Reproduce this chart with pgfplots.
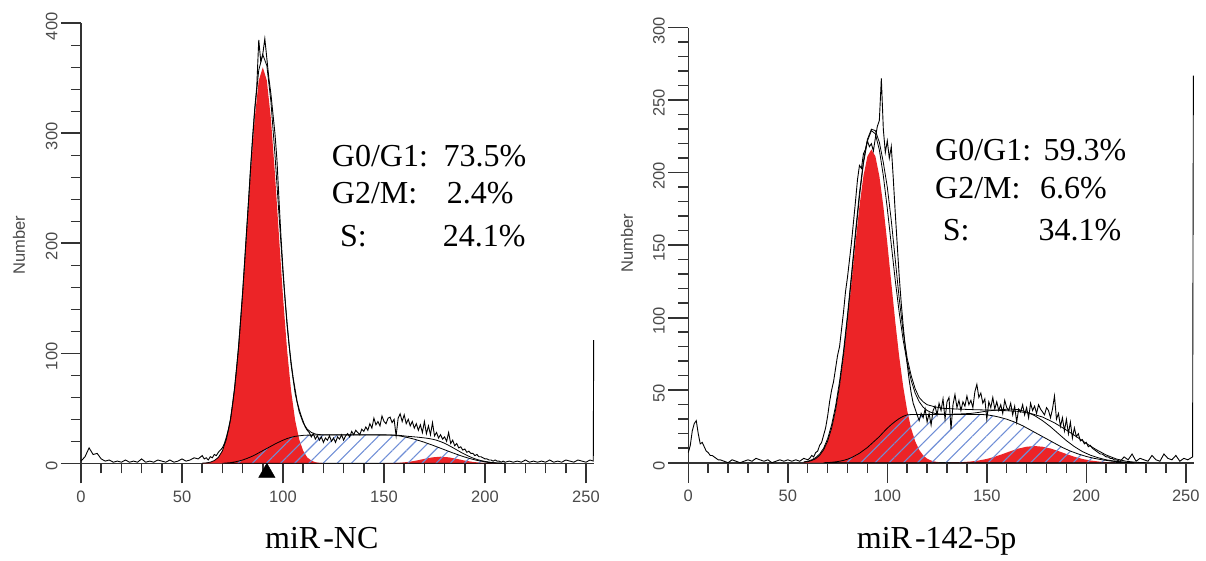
\documentclass[border=0pt]{standalone}
\usepackage{fontspec}
\setmainfont{Liberation Serif}
\newfontfamily\arial{Liberation Sans}
\usepackage{pgfplots}
\pgfplotsset{compat=1.18}
\usetikzlibrary{patterns.meta}

\definecolor{fcsred}{HTML}{EC2427}
\definecolor{hatchblue}{HTML}{6F8ED6}
\definecolor{axgray}{HTML}{333333}
\definecolor{lblgray}{HTML}{4A4A4A}

\pgfplotsset{
  fcs/.style={
    anchor=south west,
    axis x line*=bottom, axis y line*=left,
    xmin=0, xmax=254, ymin=0,
    xtick={0,50,...,250}, minor x tick num=4,
    minor y tick num=4,
    tick align=outside,
    major tick length=20pt, minor tick length=10pt,
    major tick style={axgray, line width=1.6pt},
    minor tick style={axgray, line width=1.5pt},
    axis line style={axgray, line width=1.6pt},
    ticklabel style={font=\arial\fontsize{16.5}{16.5}\selectfont, text=lblgray},
    xticklabel style={yshift=-4pt},
    yticklabel style={rotate=90, anchor=south, xshift=-3pt},
    /pgf/number format/assume math mode=true,
    clip=false,
  },
  g1/.style={fill=fcsred, draw=none},
  sph/.style={pattern={Lines[angle=45,distance=10pt,line width=1.1pt]}, pattern color=hatchblue, draw=black, line width=0.8pt},
  raw/.style={black, line width=0.9pt},
  fit/.style={black, line width=0.8pt},
}

\newcommand{\bigtxt}{\fontsize{32}{32}\selectfont}

\begin{document}
\begin{tikzpicture}

% ---------------- miR-NC ----------------
\begin{axis}[fcs, at={(81pt,96.7pt)}, x=2.02pt, y=1.1pt, ymax=400,
  ytick={0,100,...,400}]
% G0/G1 peak
\addplot[g1] coordinates {(60,0.2)(62,0.4)(64,1)(66,2.5)(68,5.4)(70,11.3)(72,21.8)(74,39.2)(76,66)(78,103.4)(80,151.4)(82,206.9)(84,263.6)(86,313.5)(88,348)(90,360)(92,348)(94,313.5)(96,263.6)(98,206.9)(100,151.4)(102,103.4)(104,66)(106,39.2)(108,21.8)(110,11.3)(112,5.4)(114,2.5)(116,1)(118,0.4)(120,0.2)} \closedcycle;
% G2/M peak
\addplot[g1] coordinates {(150,0.05)(154,0.17)(158,0.51)(162,1.24)(166,2.47)(170,4.04)(174,5.43)(178,6)(182,5.43)(186,4.04)(190,2.47)(194,1.24)(198,0.51)(202,0.17)(206,0.05)} \closedcycle;
% S phase
\addplot[sph] coordinates {(70,0)(72,0.3)(74,0.6)(76,1.2)(78,2)(80,3)(82,4.3)(84,5.8)(86,7.5)(88,9.5)(90,11.5)(92,13.5)(94,15.5)(96,17.5)(98,19.3)(100,21)(102,22.5)(104,23.6)(106,24.5)(108,25)(110,25.4)(112,25.6)(120,25.7)(130,25.8)(140,25.8)(150,25.8)(152,25.7)(154,25.6)(156,25.3)(158,24.8)(160,24.1)(162,23.3)(164,22.4)(166,21.4)(168,20.3)(170,19.1)(172,17.8)(174,16.5)(176,15.1)(178,13.7)(180,12.3)(182,10.9)(184,9.5)(186,8.2)(188,6.9)(190,5.7)(192,4.6)(194,3.6)(196,2.7)(198,2)(200,1.4)(202,0.9)(204,0.5)(206,0.25)(208,0.1)(210,0)} \closedcycle;
% model sum
\addplot[fit] coordinates {(60,0.1)(62,0.4)(64,1)(66,2.5)(68,5.4)(70,11.3)(72,22.1)(74,39.8)(76,67.2)(78,105.4)(80,154.4)(82,211.2)(84,269.4)(86,321)(88,357.5)(90,371.5)(92,361.5)(94,329)(96,281.1)(98,226.2)(100,172.4)(102,125.9)(104,89.6)(106,63.7)(108,46.8)(110,36.7)(112,31)(114,28.1)(116,26.6)(118,26.1)(120,25.9)(130,25.9)(140,25.9)(150,25.85)(152,25.8)(154,25.8)(156,25.6)(158,25.3)(160,24.9)(162,24.5)(164,24.2)(166,23.9)(168,23.5)(170,23.1)(172,22.6)(174,21.9)(176,21)(178,19.7)(180,18.2)(182,16.3)(184,14.3)(186,12.2)(188,10.1)(190,8.2)(192,6.4)(194,4.8)(196,3.5)(198,2.5)(200,1.7)(202,1.1)(204,0.6)(206,0.3)(208,0.1)(210,0)};
% raw histogram
\addplot[raw] coordinates {(0,2)(2,6)(4,14)(6,8)(8,9)(10,4)(12,2)(14,3)(16,1)(18,2)(20,1)(22,3)(24,1)(26,2)(28,1)(30,4)(32,1)(34,2)(36,1)(38,3)(40,2)(42,1)(44,3)(46,1)(48,2)(50,4)(52,2)(54,3)(56,5)(58,4)(60,7)
(61,4)(62,5)(63,3)(64,6)(65,5)(66,8)(67,7)(68,10)(69,12)(70,14)(71,18)(72,24)(73,31)(74,40)(75,53)(76,68)(77,86)(78,106)(79,130)(80,155)(81,183)(82,212)(83,240)(84,270)(85,298)(86,322)(87,342)(88,385)(89,365)(90,372)(91,386)(92,368)(93,350)(94,336)(95,318)(96,300)(97,276)(98,240)(99,206)(100,176)(101,150)(102,128)(103,108)(104,92)(105,78)(106,67)(107,56)(108,49)(109,43)(110,38)(111,33)(112,30)(113,28)(114,24)(115,27)(116,22)(117,25)(118,21)(119,24)(120,19)(121,23)(122,21)(123,25)(124,20)(125,23)(126,19)(127,24)(128,22)(129,26)(130,21)(131,25)(132,27)(133,24)(134,29)(135,26)(136,30)(137,28)(138,26)(139,31)(140,29)(141,33)(142,30)(143,36)(144,32)(145,41)(146,35)(147,38)(148,34)(149,43)(150,38)(151,36)(152,41)(153,42)(154,37)(155,40)(156,25)(157,41)(158,45)(159,38)(160,44)(161,36)(162,40)(163,34)(164,38)(165,32)(166,36)(167,30)(168,35)(169,28)(170,38)(171,27)(172,34)(173,26)(174,37)(175,25)(176,28)(177,23)(178,26)(179,22)(180,24)(181,20)(182,28)(183,18)(184,21)(185,16)(186,18)(187,14)(188,15)(189,12)(190,13)(191,10)(192,11)(193,9)(194,9)(195,7)(196,8)(197,6)(198,6)(199,5)(200,4)(201,4)(202,3)(203,3)(204,2)(205,3)(206,2)(207,2)(208,1)(209,2)(210,1)
(212,2)(214,1)(216,2)(218,1)(220,3)(222,1)(224,2)(226,1)(228,2)(230,1)(232,3)(234,1)(236,2)(238,1)(240,3)(242,2)(244,1)(246,3)(248,2)(250,1)(252,3)(253.6,2)(253.8,112)};
% gate marker
\addplot[only marks, mark=triangle*, mark size=9.5pt, black] coordinates {(92,-8.6)};
\end{axis}

% ---------------- miR-142-5p ----------------
\begin{axis}[fcs, at={(688.3pt,97.3pt)}, x=1.99pt, y=1.45pt, ymax=300,
  ytick={0,50,...,300}]
\addplot[g1] coordinates {(58,0.35)(60,0.74)(62,1.5)(64,2.8)(66,5.1)(68,8.9)(70,14.8)(72,23.5)(74,35.9)(76,52.3)(78,72.9)(80,97.2)(82,124.1)(84,151.5)(86,176.9)(88,197.7)(90,211.3)(92,216)(94,211.3)(96,197.7)(98,176.9)(100,151.5)(102,124.1)(104,97.2)(106,72.9)(108,52.3)(110,35.9)(112,23.5)(114,14.8)(116,8.9)(118,5.1)(120,2.8)(122,1.5)(124,0.74)(126,0.35)} \closedcycle;
\addplot[g1] coordinates {(130,0.08)(134,0.2)(138,0.42)(142,0.85)(146,1.55)(150,2.6)(154,4.1)(158,6)(162,8)(166,9.8)(170,11)(174,11.5)(178,11)(182,9.8)(186,8)(190,6)(194,4.1)(198,2.6)(202,1.55)(206,0.85)(210,0.42)(214,0.2)(218,0.08)(222,0)} \closedcycle;
\addplot[sph] coordinates {(68,0)(70,0.1)(72,0.3)(74,0.6)(76,1)(78,1.6)(80,2.4)(82,3.5)(84,5)(86,6.5)(88,8.5)(90,10.5)(92,13)(94,15.5)(96,18)(98,21)(100,23.8)(102,26.3)(104,28.5)(106,30.5)(108,32)(110,33)(112,33.2)(130,33.3)(148,33.2)(150,33)(152,32.6)(154,32.1)(156,31.5)(160,30)(164,28)(168,25.5)(172,22.5)(176,19.5)(180,16.5)(184,13.5)(188,10.5)(192,8)(196,6)(200,4.3)(204,3)(208,2)(212,1.2)(216,0.6)(220,0.2)(224,0)} \closedcycle;
% model sum
\addplot[fit] coordinates {(58,0.35)(60,0.74)(62,1.5)(64,2.8)(66,5.1)(68,8.9)(70,14.9)(72,23.8)(74,36.5)(76,53.3)(78,74.5)(80,99.6)(82,127.6)(84,156.5)(86,183.4)(88,206.2)(90,221.8)(92,229)(94,226.8)(96,215.7)(98,197.9)(100,175.3)(102,150.4)(104,125.7)(106,103.4)(108,84.3)(110,68.9)(112,56.7)(114,48)(116,42.1)(118,38.3)(120,36)(122,34.7)(124,34)(126,33.6)(130,33.4)(134,33.5)(138,33.7)(142,34)(146,34.7)(150,35.6)(154,36.2)(158,36.7)(162,37)(166,36.6)(170,35)(174,32.5)(178,29)(182,24.8)(186,20)(190,15.2)(194,11.1)(198,7.7)(202,5.2)(206,3.4)(210,2)(214,1.1)(218,0.5)(222,0.1)(224,0)};
% broader fit
\addplot[fit] coordinates {(58,0.5)(60,1)(62,2)(64,3.5)(66,6)(68,10)(70,16.5)(72,26)(74,39)(76,56)(78,77)(80,102)(82,130)(84,159)(86,186)(88,208)(90,223)(92,230)(94,229)(96,221)(98,207)(100,190)(102,167)(104,140)(106,113)(108,90)(110,72)(112,60)(114,51)(116,45)(118,42)(120,40)(124,38.5)(128,37.5)(135,37)(145,36.5)(155,36.2)(165,35.5)(172,34)(178,31.5)(184,27.5)(190,22.5)(195,18)(200,13.3)(205,9)(210,5.3)(215,2.6)(220,1)(225,0.3)(230,0)};
% raw histogram
\addplot[raw] coordinates {(0,7)(1,12)(2,22)(3,27)(4,29)(5,20)(6,13)(7,14)(8,11)(9,8)(10,7)(11,5)(12,5)(13,4)(14,3)(15,2)(16,2)(18,1)(20,0)(22,2)(24,1)(26,0)(28,1)(30,2)(32,1)(34,3)(36,2)(38,1)(40,2)(42,0)(44,1)(46,2)(48,1)(50,2)(52,1)(54,2)(56,1)(58,3)(60,2)
(61,3)(62,5)(63,4)(64,7)(65,8)(66,12)(67,14)(68,19)(69,24)(70,32)(71,42)(72,50)(73,56)(74,65)(75,74)(76,80)(77,92)(78,104)(79,118)(80,128)(81,140)(82,152)(83,166)(84,180)(85,195)(86,205)(87,203)(88,213)(89,216)(90,222)(91,218)(92,220)(93,215)(94,224)(95,232)(96,236)(97,265)(98,230)(99,214)(100,222)(101,210)(102,218)(103,196)(104,172)(105,150)(106,128)(107,110)(108,94)(109,80)(110,68)(111,57)(112,48)(113,41)(114,37)(115,33)(116,29)(117,34)(118,31)(119,37)(120,28)(121,34)(122,26)(123,36)(124,39)(125,33)(126,41)(127,36)(128,44)(129,30)(130,42)(131,45)(132,23)(133,40)(134,47)(135,38)(136,43)(137,36)(138,42)(139,39)(140,46)(141,40)(142,43)(143,38)(144,49)(145,54)(146,45)(147,48)(148,41)(149,44)(150,30)(151,42)(152,38)(153,45)(154,37)(155,42)(156,36)(157,40)(158,34)(159,43)(160,38)(161,36)(162,41)(163,33)(164,39)(165,28)(166,37)(167,35)(168,40)(169,33)(170,38)(171,31)(172,41)(173,36)(174,39)(175,34)(176,40)(177,37)(178,35)(179,33)(180,38)(181,36)(182,31)(183,37)(184,46)(185,30)(186,34)(187,25)(188,31)(189,22)(190,30)(191,20)(192,28)(193,17)(194,24)(195,18)(196,20)(197,15)(198,16)(199,13)(200,14)(201,11)(202,12)(203,10)(204,9)(205,8)(206,7)(207,6)(208,6)(209,5)(210,4)(211,4)(212,3)(213,3)(214,2)(215,2)
(217,1)(219,4)(221,2)(223,6)(225,1)(227,3)(229,2)(231,1)(233,5)(235,2)(237,1)(239,6)(241,3)(243,2)(245,5)(247,1)(249,3)(251,2)(253.4,4)(253.8,267)};
\end{axis}

% y labels
\node[rotate=90, font=\arial\fontsize{16.5}{16.5}\selectfont, text=lblgray] at (19pt,315pt) {Number};
\node[rotate=90, font=\arial\fontsize{16.5}{16.5}\selectfont, text=lblgray] at (627pt,317pt) {Number};

% phase percentages
\begin{scope}[every node/.style={anchor=base west, inner sep=0pt, font=\bigtxt}]
\node at (331.7pt,393.3pt) {G0/G1:};
\node at (443.3pt,393.3pt) {73.5\%};
\node at (331.7pt,356pt) {G2/M:};
\node at (446.7pt,356pt) {2.4\%};
\node at (340pt,313.3pt) {S:};
\node at (442.7pt,313.3pt) {24.1\%};
\node at (935pt,399.3pt) {G0/G1:};
\node at (1043.3pt,399.3pt) {59.3\%};
\node at (935pt,361pt) {G2/M:};
\node at (1040pt,361pt) {6.6\%};
\node at (942.7pt,319.3pt) {S:};
\node at (1038.3pt,319.3pt) {34.1\%};
\node at (265pt,12pt) {miR\kern3pt-NC};
\node at (856.7pt,12pt) {miR\kern3pt-142-5p};
\end{scope}

\pgfresetboundingbox
\path[use as bounding box] (0,0) rectangle (1206pt,560pt);
\end{tikzpicture}
\end{document}
